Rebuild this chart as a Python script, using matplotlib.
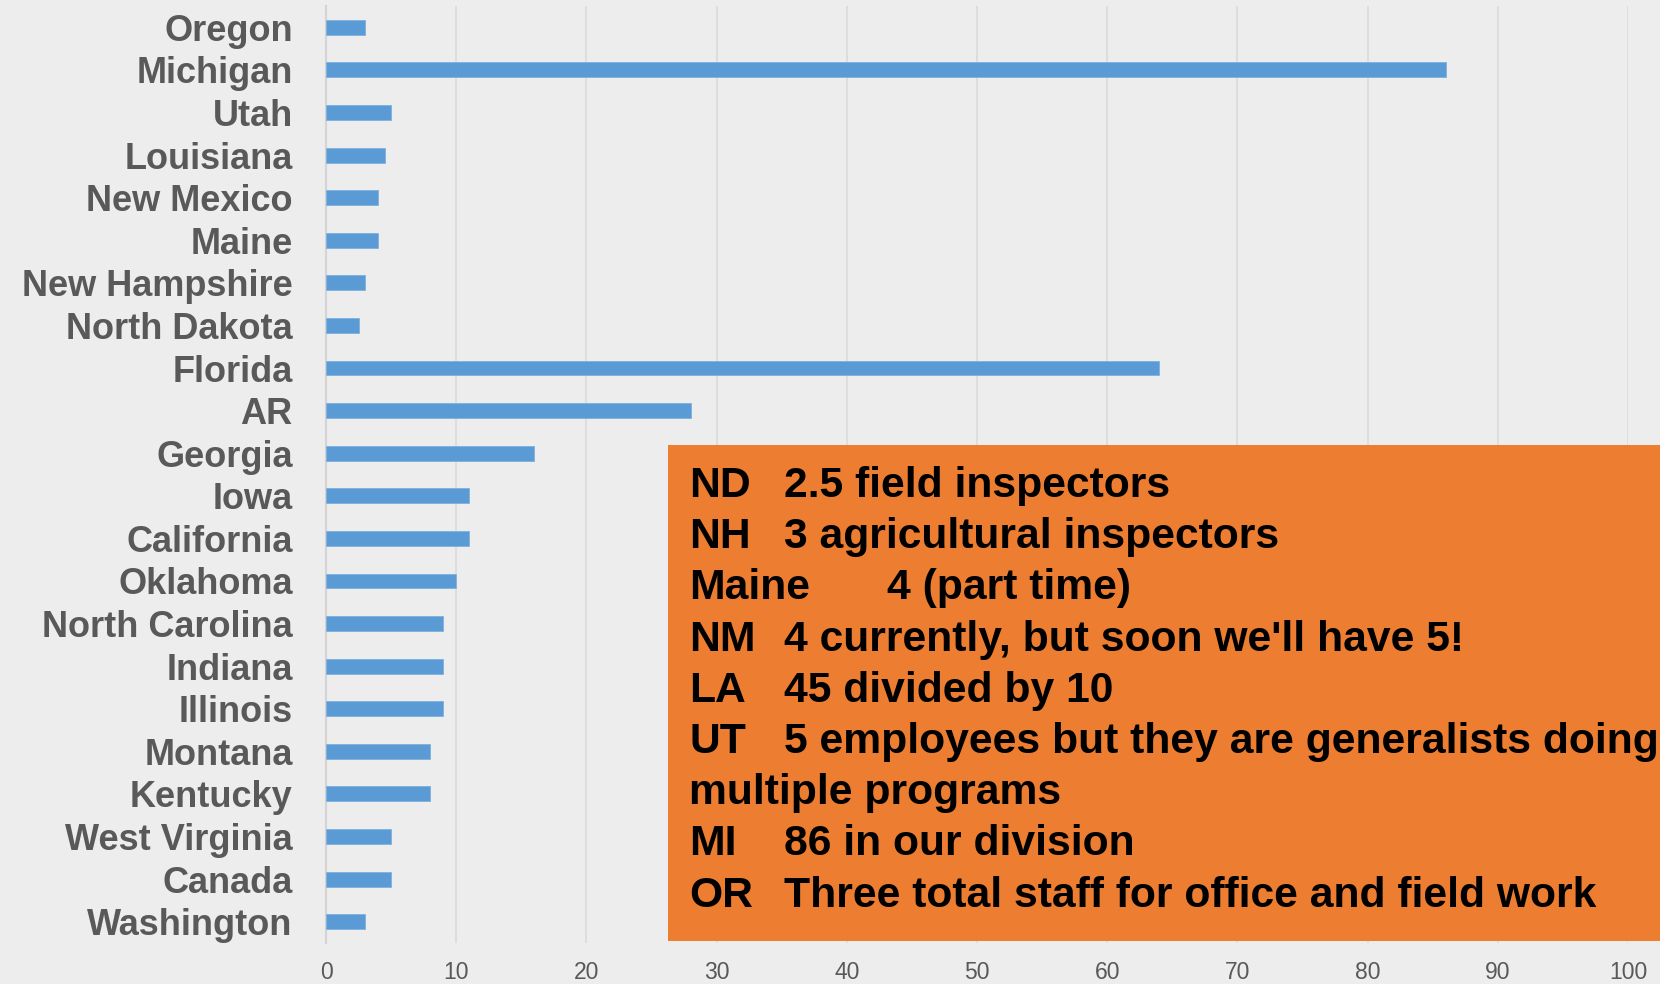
import matplotlib
matplotlib.use("Agg")
import matplotlib.pyplot as plt
from matplotlib.patches import Rectangle

states = ["Oregon", "Michigan", "Utah", "Louisiana", "New Mexico", "Maine",
          "New Hampshire", "North Dakota", "Florida", "AR", "Georgia", "Iowa",
          "California", "Oklahoma", "North Carolina", "Indiana", "Illinois",
          "Montana", "Kentucky", "West Virginia", "Canada", "Washington"]
staff = [3, 86, 5, 4.5, 4, 4, 3, 2.5, 64, 28, 16, 11, 11, 10, 9, 9, 9, 8, 8, 5, 5, 3]
x_ticks = [0, 10, 20, 30, 40, 50, 60, 70, 80, 90, 100]

note_codes = ["ND", "NH", "Maine", "NM", "LA", "UT", "", "MI", "OR"]
note_texts = ["2.5 field inspectors", "3 agricultural inspectors", "4 (part time)",
              "4 currently, but soon we'll have 5!", "45 divided by 10",
              "5 employees but they are generalists doing", "multiple programs",
              "86 in our division", "Three total staff for office and field work"]

BG = "#ededed"
BLUE = "#5b9bd5"
ORANGE = "#ed7d31"
GREY = "#595959"

plt.rcParams["font.family"] = ["Liberation Sans", "DejaVu Sans"]

W, H = 1660, 984
fig = plt.figure(figsize=(W / 100, H / 100), dpi=100, facecolor=BG)
ax = fig.add_axes([326 / W, 1 - 943 / H, 1302 / W, 937 / H], facecolor=BG)

y = range(len(states))
ax.barh(y, staff, height=0.35, color=BLUE, edgecolor="#7fb1de", linewidth=0.6, zorder=3)
ax.set_ylim(len(states) - 0.5, -0.5)
ax.set_xlim(0, 100)

ax.set_yticks(list(y))
ax.set_yticklabels(states, fontsize=26, fontweight="bold", color=GREY)
ax.set_xticks(x_ticks)
ax.set_xticklabels([str(t) for t in x_ticks], fontsize=16.5, color=GREY)
ax.tick_params(axis="y", length=0, pad=24)
ax.tick_params(axis="x", length=0, pad=13)

ax.grid(axis="x", color="#d9d9d9", linewidth=1.1, zorder=0)
for side in ["top", "right", "bottom"]:
    ax.spines[side].set_visible(False)
ax.spines["left"].set_color("#d4d4d4")
ax.spines["left"].set_linewidth(1.5)


def fx(px):
    return px / W


def fy(py):
    return 1 - py / H


# orange notes panel drawn over the grid
fig.patches.append(Rectangle((fx(668), fy(941)), fx(W) - fx(668), fy(445) - fy(941),
                             transform=fig.transFigure, facecolor=ORANGE,
                             edgecolor="none", zorder=5))

for i, (code, txt) in enumerate(zip(note_codes, note_texts)):
    base = 497 + i * 51.2
    style = dict(fontsize=30.7, fontweight="bold", color="black", va="baseline", zorder=6)
    if code:
        fig.text(fx(689), fy(base), code, **style)
        fig.text(fx(887 if code == "Maine" else 784), fy(base), txt, **style)
    else:
        fig.text(fx(689), fy(base), txt, **style)

fig.savefig("out.png", dpi=100, facecolor=BG)
